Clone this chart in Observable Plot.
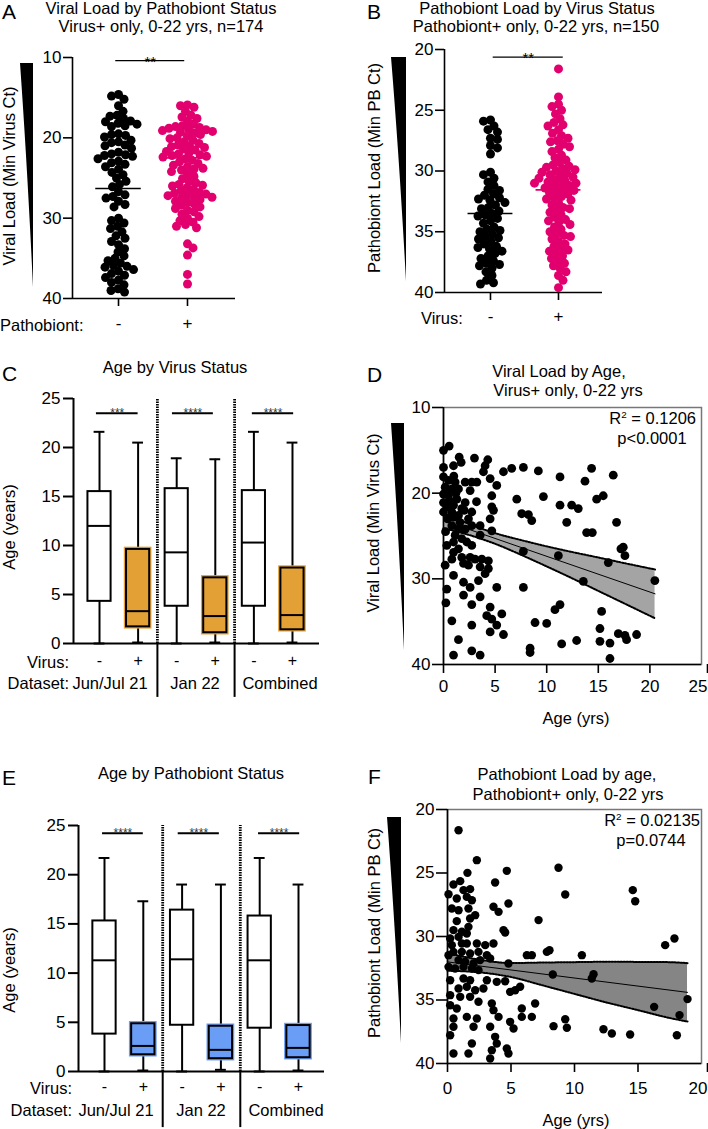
<!DOCTYPE html>
<html><head><meta charset="utf-8">
<script src="https://cdn.jsdelivr.net/npm/d3@7"></script>
<script src="https://cdn.jsdelivr.net/npm/@observablehq/plot@0.6"></script>
<style>
body{margin:0;background:#fff;}
#fig{position:relative;width:708px;height:1129px;font-family:"Liberation Sans",Arial,Helvetica,sans-serif;color:#000;overflow:hidden;background:#fff;}
.abs{position:absolute;white-space:nowrap;line-height:1;}
sup{font-size:60%;vertical-align:0.55em;line-height:0;}
</style></head>
<body><div id="fig"></div>
<script>
// ---------------- DATA ----------------
// Panel A: viral load (min virus Ct) by pathobiont status
const A_cats = ["-", "+"];
const A_neg = [14.6,14.8,15.2,16.0,16.7,17.2,17.3,17.6,17.9,18.0,18.2,18.3,18.5,18.6,19.5,19.6,19.7,19.9,20.3,20.5,20.6,20.9,21.0,21.3,21.8,22.0,22.1,22.2,22.3,22.6,22.9,23.1,23.3,23.6,23.9,24.3,24.6,25.0,25.4,25.8,26.1,26.7,27.1,27.3,27.5,27.9,28.3,28.6,30.0,30.3,30.6,31.0,31.3,31.7,32.2,32.5,32.9,33.3,33.8,34.2,34.7,35.0,35.3,35.6,35.9,36.1,36.4,36.6,36.9,37.1,37.4,37.7,38.0,38.3,38.8,39.0,39.2,36.0];
const A_pos = [15.9,16.0,16.2,16.7,17.2,17.4,17.6,17.9,18.3,18.5,18.6,18.7,18.8,19.0,19.1,19.3,19.4,19.6,19.8,20.0,20.1,20.3,20.5,20.7,20.9,21.0,21.2,21.4,21.5,21.7,21.9,22.0,22.2,22.3,22.4,22.6,22.8,23.0,23.2,23.4,23.6,23.8,24.0,24.2,24.5,24.8,25.1,25.4,25.6,25.8,26.0,26.2,26.4,26.6,26.8,26.9,27.0,27.1,27.3,27.4,27.5,27.7,27.9,28.0,28.2,28.4,28.6,28.8,29.0,29.2,29.5,29.8,30.0,30.3,30.5,30.8,31.0,31.2,33.2,33.7,34.6,37.0,38.2,19.2,22.1,25.9,27.2,18.9,21.1,23.9];
const A_means = [26.3, 22.5];
const A_sig = [{y: 10.4, x1: -0.04, x2: 0.96, label: "**"}];

// Panel B: pathobiont load (min PB Ct) by virus status
const B_cats = ["-", "+"];
const B_neg = [25.8,25.9,26.3,26.6,26.8,27.3,27.4,27.9,28.1,28.6,30.1,30.3,30.6,30.9,31.2,31.5,31.6,32.0,32.2,32.4,32.6,32.8,33.0,33.1,33.3,33.5,33.7,33.9,34.1,34.3,34.6,34.8,35.0,35.2,35.4,35.6,35.8,36.0,36.2,36.4,36.6,36.8,37.0,37.2,37.4,37.6,37.8,38.0,38.3,38.6,39.0,39.2,39.3,32.3,34.9,36.3,31.9,33.6,35.5,37.7];
const B_pos = [21.6,23.9,24.5,24.7,25.0,25.3,25.7,26.0,26.2,26.3,26.6,26.9,27.1,27.3,27.5,27.8,28.0,28.2,28.4,28.7,28.9,29.1,29.3,29.5,29.6,29.7,29.8,30.0,30.1,30.2,30.4,30.5,30.6,30.7,30.9,31.0,31.1,31.2,31.3,31.4,31.5,31.7,31.8,31.9,32.1,32.2,32.4,32.6,32.8,33.0,33.2,33.4,33.6,33.8,34.0,34.2,34.4,34.6,34.8,35.0,35.2,35.4,35.6,35.8,36.0,36.2,36.4,36.6,36.8,37.0,37.2,37.4,37.6,37.8,38.0,38.3,38.6,39.0,39.6,30.3,30.8,31.6,29.9,31.0,32.3,33.1,34.1,35.3,36.5,27.6];
const B_means = [33.5, 31.55];
const B_sig = [{y: 20.63, x1: 0.04, x2: 1.07, label: "**"}];

// Panel C: age by virus status (box plots)
const C_virus = ["-", "+", "-", "+", "-", "+"];
const C_min = [0, 0.1, 0, 0.1, 0, 0.1];
const C_q1  = [4.3, 1.7, 3.8, 1.1, 3.8, 1.4];
const C_med = [12.0, 3.3, 9.3, 2.8, 10.3, 2.9];
const C_q3  = [15.5, 9.6, 15.8, 6.7, 15.6, 7.7];
const C_max = [21.6, 20.5, 18.9, 18.8, 21.6, 20.5];
const C_sig = [{x1: -0.08, x2: 1.0, label: "***"}, {x1: 1.89, x2: 2.95, label: "****"}, {x1: 3.96, x2: 5.03, label: "****"}];

// Panel E: age by pathobiont status (box plots)
const E_min = [0, 0.1, 0, 0.17, 0, 0.1];
const E_q1  = [3.8, 1.7, 4.7, 1.3, 4.4, 1.4];
const E_med = [11.3, 2.6, 11.4, 2.2, 11.3, 2.4];
const E_q3  = [15.3, 4.85, 16.4, 4.6, 15.8, 4.67];
const E_max = [21.7, 17.3, 19.0, 19.0, 21.7, 19.0];
const E_sig = [{x1: -0.05, x2: 1.0, label: "****"}, {x1: 1.9, x2: 2.96, label: "****"}, {x1: 3.97, x2: 5.03, label: "****"}];
const datasets = ["Jun/Jul 21", "Jan 22", "Combined"];

// Panel D: viral load vs age  [age, Ct]
const D_pts = [[0,15.0],[0.55,14.5],[1.52,15.8],[1.71,16.4],[3.0,15.9],[4.29,16.1],[4.03,16.8],[3.87,17.5],[0,17.0],[0.97,16.8],[0,18.1],[0.48,18.5],[1.13,18.7],[2.1,18.7],[2.74,18.7],[3.23,18.7],[4.52,18.3],[5.16,19.1],[0.16,19.3],[0.81,19.5],[1.45,19.5],[2.58,19.7],[0,20.1],[0.48,20.3],[1.29,20.7],[2.1,21.1],[0,21.1],[0.32,21.6],[0.97,21.4],[1.77,21.8],[2.74,22.2],[0,22.2],[0.81,22.2],[1.45,22.6],[2.42,23.0],[4.68,20.3],[4.68,21.6],[4.84,22.0],[4.52,23.0],[3.55,23.8],[4.68,24.4],[3.55,24.9],[0.81,23.8],[1.45,24.2],[2.1,24.2],[2.74,23.8],[1.13,24.9],[1.77,25.3],[0.97,25.7],[2.26,25.7],[1.45,26.5],[2.74,26.1],[0.32,26.1],[0.97,26.9],[1.77,27.5],[2.58,27.5],[3.06,27.7],[3.71,27.7],[4.35,27.9],[1.94,28.2],[2.42,28.4],[3.55,28.6],[4.35,28.8],[0.16,28.4],[0.81,27.7],[0.97,29.6],[1.94,30.4],[2.58,31.0],[3.39,30.2],[4.03,29.4],[5.16,31.0],[0.32,31.2],[1.94,31.9],[3.55,32.1],[2.74,33.0],[0.23,32.8],[4.52,33.3],[4.19,34.3],[4.68,34.7],[5.65,34.1],[0.81,34.9],[2.74,35.4],[5.16,35.4],[4.52,36.2],[5.81,36.5],[1.45,37.1],[0.97,38.9],[2.74,38.4],[3.55,38.9],[0.3,19.8],[0.6,20.9],[1.0,22.8],[1.6,23.4],[0.4,23.0],[1.2,20.0],[0.2,24.5],[2.0,22.0],[3.2,21.0],[1.0,18.0],
[5.81,17.5],[6.61,17.1],[7.74,17.0],[9.19,17.4],[11.29,18.1],[13.71,18.6],[14.35,17.1],[16.45,17.9],[7.1,20.7],[9.68,20.4],[11.29,21.4],[12.42,21.4],[13.06,21.8],[7.58,22.4],[8.23,22.5],[8.55,23.2],[11.94,23.4],[14.84,20.7],[15.48,20.3],[16.77,23.4],[13.87,24.6],[14.42,24.6],[7.74,26.8],[11.13,27.3],[17.19,26.5],[17.42,26.3],[17.58,27.3],[15.97,28.1],[13.55,30.3],[20.48,30.2],[7.74,31.0],[10.8,33.6],[11.29,33.0],[15.32,33.8],[8.87,35.1],[10.0,35.2],[15.16,35.8],[16.94,36.4],[17.58,36.6],[17.74,37.1],[18.71,36.5],[11.45,37.6],[12.9,37.2],[15.16,37.3],[16.13,37.5],[8.39,38.1],[8.39,38.6],[16.13,39.3]];
const D_ciAge = [0, 2.5, 5, 7.5, 10, 12.5, 15, 17.5, 20.5];
const D_ciLo  = [22.3, 23.6, 24.67, 25.47, 26.21, 26.88, 27.51, 28.16, 28.91];
const D_ciHi  = [24.1, 24.89, 25.91, 27.19, 28.55, 29.96, 31.41, 32.86, 34.61];
const D_fitAge = [0, 20.5];
const D_fitCt = [23.2, 31.75];

// Panel F: pathobiont load vs age  [age, Ct]
const F_pts = [[0.87,21.63],[2.31,23.99],[4.67,24.83],[1.57,24.99],[3.75,25.75],[8.74,24.59],[9.27,26.69],[14.59,26.35],[14.78,27.22],[0.08,26.67],[0.47,25.91],[1.0,25.64],[1.26,26.35],[1.78,26.27],[0.73,27.01],[1.52,26.88],[1.92,27.14],[0.34,27.8],[0.87,27.93],[1.65,27.8],[2.18,28.32],[1.78,28.58],[3.62,27.66],[4.02,28.06],[4.8,27.4],[0.73,28.79],[0.47,29.5],[1.13,29.63],[1.65,29.24],[0.21,30.16],[0.87,30.03],[1.52,29.76],[4.41,29.5],[4.54,29.69],[7.17,28.71],[0.34,30.68],[1.13,30.55],[1.52,30.55],[2.31,30.55],[2.97,30.68],[3.62,30.55],[0.47,31.21],[1.13,31.21],[1.78,31.34],[2.44,31.21],[3.1,31.47],[0.08,31.47],[0.87,31.86],[1.39,31.99],[2.05,32.13],[2.57,31.86],[3.36,31.73],[4.8,32.13],[0.08,32.39],[0.6,32.52],[1.26,32.39],[1.92,32.52],[2.44,32.65],[0.21,33.44],[1.26,33.31],[1.78,33.44],[3.1,33.44],[3.88,33.57],[4.54,33.52],[0.87,34.09],[1.52,33.96],[2.18,34.23],[2.83,34.09],[0.21,34.62],[1.0,34.75],[1.78,34.75],[2.44,35.14],[3.49,35.28],[4.93,34.36],[5.33,34.23],[5.72,33.96],[6.25,31.47],[6.64,31.47],[7.82,31.21],[8.03,31.08],[10.58,31.47],[8.29,32.99],[11.36,33.31],[11.5,32.97],[6.9,35.28],[5.85,35.67],[0.21,35.41],[0.73,35.67],[1.52,36.33],[2.31,36.46],[3.62,35.8],[4.02,36.33],[5.85,36.33],[6.64,36.33],[0.47,36.46],[0.47,37.11],[0.21,37.77],[2.05,37.11],[3.36,37.11],[4.93,36.72],[5.2,37.24],[3.75,37.9],[3.88,38.43],[3.49,38.95],[4.67,38.82],[4.8,39.21],[3.36,39.61],[0.47,39.21],[1.65,39.21],[1.92,38.43],[8.35,37.06],[9.27,36.51],[9.4,37.19],[12.28,37.3],[12.94,37.64],[14.38,37.72],[17.14,30.68],[17.87,30.16],[16.27,35.54],[18.27,36.19],[18.9,34.93],[18.06,37.77]];
const F_ciAge = [0, 2.5, 5, 7.5, 10, 12.5, 15, 17.5, 18.9];
const F_ciLo  = [31.3, 31.82, 32.09, 32.05, 32.02, 31.99, 32.0, 32.02, 32.1];
const F_ciHi  = [32.7, 32.82, 33.19, 33.85, 34.52, 35.19, 35.8, 36.42, 36.7];
const F_fitAge = [0, 18.9];
const F_fitCt = [32.0, 34.4];

// ---------------- HELPERS ----------------
const FONT = '"Liberation Sans", Arial, Helvetica, sans-serif';
const PINK = "#e2006e", ORANGE = "#e3a035", BLUE = "#6a9ef6";
const TICKFS = 17;
const fig = document.getElementById("fig");
const style = {fontFamily: FONT, fontSize: "17px", color: "#000", background: "transparent", overflow: "visible"};

function place(el, left, top) {
  el.style.position = "absolute"; el.style.left = left + "px"; el.style.top = top + "px";
  fig.appendChild(el);
}
function txt(html, x, y, o = {}) {
  const {anchor = "middle", size = 16.5, rotate = false, color = "#000"} = o;
  const d = document.createElement("div");
  d.className = "abs"; d.innerHTML = html;
  d.style.left = x + "px"; d.style.top = y + "px"; d.style.fontSize = size + "px"; d.style.color = color;
  const tx = anchor === "middle" ? "-50%" : anchor === "end" ? "-100%" : "0";
  d.style.transform = `translate(${tx},-50%)` + (rotate ? " rotate(-90deg)" : "");
  fig.appendChild(d);
}
function wedge(x1, x2, yTop, yTip) {
  const ns = "http://www.w3.org/2000/svg";
  const s = document.createElementNS(ns, "svg");
  s.setAttribute("width", 708); s.setAttribute("height", 1129);
  s.style.position = "absolute"; s.style.left = "0"; s.style.top = "0"; s.style.pointerEvents = "none";
  const p = document.createElementNS(ns, "path");
  p.setAttribute("d", `M${x1},${yTop} L${x2},${yTop} L${x2},${yTip} Q${x1 + (x2 - x1) * 0.55},${yTop + (yTip - yTop) * 0.45} ${x1},${yTop} Z`);
  p.setAttribute("fill", "#000");
  s.appendChild(p); fig.appendChild(s);
}
function swarm(values, cat, yPx, pxPerUnit, minDist) {
  const pts = values.map(v => ({v, py: yPx(v)})).sort((a, b) => a.py - b.py);
  const placed = [];
  let side = 1;
  for (const p of pts) {
    let off = null;
    for (let k = 0; off === null && k < 400; k++) {
      const cands = k === 0 ? [0] : [side * k * 0.5, -side * k * 0.5];
      for (const c of cands) {
        let ok = true;
        for (const q of placed) {
          const dy = q.py - p.py;
          if (Math.abs(dy) < minDist) {
            const dx = q.off - c;
            if (dx * dx + dy * dy < minDist * minDist) { ok = false; break; }
          }
        }
        if (ok) { off = c; break; }
      }
    }
    side = -side;
    placed.push({py: p.py, off});
  }
  return placed.map((q, i) => ({value: pts[i].v, x: cat + q.off / pxPerUnit}));
}

// ---------------- SWARM PANELS (A, B) ----------------
function swarmPanel(cfg) {
  const {left, top, width, height, mL, mR, mT, mB, xDom, yDom, yTicks, neg, pos, means, sig, tickPad} = cfg;
  const yPx = d3.scaleLinear().domain([yDom[1], yDom[0]]).range([mT, height - mB]);
  const ppu = (width - mL - mR) / (xDom[1] - xDom[0]);
  const sNeg = swarm(neg, 0, yPx, ppu, 7.0);
  const sPos = swarm(pos, 1, yPx, ppu, 6.6);
  const meanData = means.map((m, i) => ({i, m}));
  const p = Plot.plot({
    width, height, marginLeft: mL, marginRight: mR, marginTop: mT, marginBottom: mB,
    x: {domain: xDom, axis: null}, y: {domain: yDom, axis: null}, style,
    marks: [
      Plot.ruleY([yDom[0]], {strokeWidth: 1.6}),
      Plot.ruleX([xDom[0]], {strokeWidth: 1.6}),
      Plot.axisY({ticks: yTicks, tickSize: 9, tickPadding: 2, fontSize: TICKFS, strokeWidth: 1.6, label: null}),
      Plot.axisX({ticks: [0, 1], tickFormat: d => d ? "+" : "-", tickSize: 8, tickPadding: tickPad, fontSize: TICKFS, strokeWidth: 1.6, label: null}),
      Plot.dot(sNeg, {x: "x", y: "value", r: 4.5, fill: "#000"}),
      Plot.dot(sPos, {x: "x", y: "value", r: 4.5, fill: PINK}),
      Plot.ruleY(meanData, {y: "m", x1: d => d.i - 0.33, x2: d => d.i + 0.33, stroke: d => d.i ? PINK : "#000", strokeWidth: 1.6}),
      Plot.ruleY(sig, {y: "y", x1: "x1", x2: "x2", strokeWidth: 1.3}),
      Plot.text(sig, {x: d => (d.x1 + d.x2) / 2, y: "y", text: "label", fontSize: 15, lineAnchor: "bottom", dy: 6})
    ]
  });
  place(p, left, top);
}
swarmPanel({left: 0, top: 0, width: 250, height: 330, mL: 72, mR: 15, mT: 57, mB: 32,
  xDom: [-0.667, 1.696], yDom: [40, 10], yTicks: [10, 20, 30, 40], neg: A_neg, pos: A_pos, means: A_means, sig: A_sig, tickPad: 10});
swarmPanel({left: 354, top: 0, width: 260, height: 330, mL: 90, mR: 12, mT: 49, mB: 38,
  xDom: [-0.676, 1.647], yDom: [40, 20], yTicks: [20, 25, 30, 35, 40], neg: B_neg, pos: B_pos, means: B_means, sig: B_sig, tickPad: 9});

// ---------------- BOX PANELS (C, E) ----------------
function boxPanel(cfg) {
  const {left, top, width, height, mL, mR, mT, mB, xDom, mins, q1s, meds, q3s, maxs, sig, sigY, fillColor, belowTo, tickPad} = cfg;
  const data = mins.map((_, i) => ({i, min: mins[i], q1: q1s[i], med: meds[i], q3: q3s[i], max: maxs[i], pos: i % 2 === 1}));
  const sigData = sig.map(d => ({...d, y: sigY}));
  const p = Plot.plot({
    width, height, marginLeft: mL, marginRight: mR, marginTop: mT, marginBottom: mB,
    x: {domain: xDom, axis: null}, y: {domain: [0, 25], axis: null}, style,
    marks: [
      Plot.ruleX([1.5, 3.5], {y1: 0, y2: 25, strokeWidth: 2.8, strokeDasharray: "1.4,1.1"}),
      Plot.ruleX([1.5, 3.5], {y1: 0, y2: belowTo, strokeWidth: 2}),
      Plot.ruleX(data, {x: "i", y1: "min", y2: "q1", strokeWidth: 2}),
      Plot.ruleX(data, {x: "i", y1: "q3", y2: "max", strokeWidth: 2}),
      Plot.ruleY(data, {y: "max", x1: d => d.i - 0.14, x2: d => d.i + 0.14, strokeWidth: 2}),
      Plot.ruleY(data, {y: "min", x1: d => d.i - 0.14, x2: d => d.i + 0.14, strokeWidth: 2}),
      Plot.rect(data.filter(d => d.pos), {x1: d => d.i - 0.3, x2: d => d.i + 0.3, y1: "q1", y2: "q3", fill: fillColor, stroke: fillColor, strokeWidth: 4.5}),
      Plot.rect(data, {x1: d => d.i - 0.3, x2: d => d.i + 0.3, y1: "q1", y2: "q3", fill: d => d.pos ? fillColor : "#fff", stroke: "#000", strokeWidth: 2}),
      Plot.ruleY(data, {y: "med", x1: d => d.i - 0.3, x2: d => d.i + 0.3, strokeWidth: 2}),
      Plot.ruleY([0], {strokeWidth: 2}),
      Plot.ruleX([xDom[0]], {strokeWidth: 2}),
      Plot.axisY({ticks: [0, 5, 10, 15, 20, 25], tickSize: 10, tickPadding: 3, fontSize: TICKFS, strokeWidth: 2, label: null}),
      Plot.axisX({ticks: [0, 1, 2, 3, 4, 5], tickFormat: d => d % 2 ? "+" : "-", tickSize: 0, tickPadding: tickPad, fontSize: 16, label: null}),
      Plot.ruleY(sigData, {y: "y", x1: "x1", x2: "x2", strokeWidth: 2}),
      Plot.text(sigData, {x: d => (d.x1 + d.x2) / 2, y: "y", text: "label", fontSize: 12, fill: "#333", lineAnchor: "bottom", dy: 4})
    ]
  });
  place(p, left, top);
}
boxPanel({left: 0, top: 380, width: 330, height: 330, mL: 73, mR: 11, mT: 18, mB: 67, xDom: [-0.674, 5.70],
  mins: C_min, q1s: C_q1, meds: C_med, q3s: C_q3, maxs: C_max, sig: C_sig, sigY: 23.5, fillColor: ORANGE, belowTo: -5.5, tickPad: 11});
boxPanel({left: 0, top: 800, width: 336, height: 329, mL: 78, mR: 12, mT: 25, mB: 58, xDom: [-0.67, 5.67],
  mins: E_min, q1s: E_q1, meds: E_med, q3s: E_q3, maxs: E_max, sig: E_sig, sigY: 24.2, fillColor: BLUE, belowTo: -5.7, tickPad: 9});

// ---------------- SCATTER PANELS (D, F) ----------------
function scatterPanel(cfg) {
  const {left, top, width, height, mL, mR, mT, mB, xDom, yDom, xTicks, yTicks, pts, ciAge, ciLo, ciHi, fitAge, fitCt, band, r, xPad} = cfg;
  const pd = pts.map(([a, c]) => ({a, c}));
  const ci = ciAge.map((a, i) => ({a, lo: ciLo[i], hi: ciHi[i]}));
  const fit = fitAge.map((a, i) => ({a, c: fitCt[i]}));
  const lastTick = xTicks[xTicks.length - 1];
  const p = Plot.plot({
    width, height, marginLeft: mL, marginRight: mR, marginTop: mT, marginBottom: mB,
    x: {domain: xDom, axis: null}, y: {domain: yDom, axis: null}, style,
    marks: [
      Plot.frame({stroke: "#777", strokeWidth: 1.5}),
      Plot.areaY(ci, {x: "a", y1: "lo", y2: "hi", fill: band, curve: "monotone-x"}),
      Plot.line(ci, {x: "a", y: "lo", strokeWidth: 2, strokeDasharray: "1.5,1.5", curve: "monotone-x"}),
      Plot.line(ci, {x: "a", y: "hi", strokeWidth: 2, strokeDasharray: "1.5,1.5", curve: "monotone-x"}),
      Plot.line(fit, {x: "a", y: "c", strokeWidth: 1}),
      Plot.dot(pd, {x: "a", y: "c", r, fill: "#000"}),
      Plot.ruleY([yDom[0]], {strokeWidth: 1.6}),
      Plot.ruleX([xDom[0]], {strokeWidth: 1.6}),
      Plot.axisY({ticks: yTicks, tickSize: 11, tickPadding: 2, fontSize: TICKFS, strokeWidth: 1.6, label: null}),
      Plot.axisX({ticks: xTicks.slice(0, -1), tickSize: 9, tickPadding: xPad, fontSize: TICKFS, strokeWidth: 1.6, label: null}),
      Plot.axisX({ticks: [lastTick], tickSize: 9, tickPadding: xPad, fontSize: TICKFS, strokeWidth: 1.6, label: null, textAnchor: "end", dx: 6})
    ]
  });
  place(p, left, top);
}
scatterPanel({left: 354, top: 380, width: 354, height: 360, mL: 89, mR: 7, mT: 27, mB: 76, xDom: [0, 25], yDom: [40, 10],
  xTicks: [0, 5, 10, 15, 20, 25], yTicks: [10, 20, 30, 40], pts: D_pts, ciAge: D_ciAge, ciLo: D_ciLo, ciHi: D_ciHi,
  fitAge: D_fitAge, fitCt: D_fitCt, band: "#a4a4a4", r: 4.4, xPad: 6});
scatterPanel({left: 354, top: 790, width: 354, height: 339, mL: 93, mR: 7, mT: 19, mB: 66, xDom: [0, 20], yDom: [40, 20],
  xTicks: [0, 5, 10, 15, 20], yTicks: [20, 25, 30, 35, 40], pts: F_pts, ciAge: F_ciAge, ciLo: F_ciLo, ciHi: F_ciHi,
  fitAge: F_fitAge, fitCt: F_fitCt, band: "#858585", r: 4.2, xPad: 9});

// ---------------- WEDGES ----------------
wedge(20, 33, 63, 287);
wedge(391, 406, 57, 281);
wedge(391, 404, 423, 650);
wedge(387, 401, 817, 1043);

// ---------------- TEXT ----------------
const L = {size: 21, anchor: "start"};
txt("A", 2, 11, L); txt("B", 367, 11, L); txt("C", 2, 373, L);
txt("D", 367, 374, L); txt("E", 2, 777, L); txt("F", 368, 776, L);

txt("Viral Load by Pathobiont Status", 161, 8);
txt("Virus+ only, 0-22 yrs, n=174", 161, 26);
txt("Pathobiont Load by Virus Status", 537, 8);
txt("Pathobiont+ only, 0-22 yrs, n=150", 536, 26);
txt("Age by Virus Status", 175, 367);
txt("Viral Load by Age,", 559, 371);
txt("Virus+ only, 0-22 yrs", 568, 390);
txt("Age by Pathobiont Status", 191, 773);
txt("Pathobiont Load by age,", 567, 774);
txt("Pathobiont+ only, 0-22 yrs", 568, 794);

txt("Viral Load (Min Virus Ct)", 9, 176, {rotate: true});
txt("Pathobiont Load (Min PB Ct)", 374, 168, {rotate: true});
txt("Age (years)", 9, 527, {rotate: true});
txt("Viral Load (Min Virus Ct)", 373, 523, {rotate: true});
txt("Age (years)", 9, 970, {rotate: true});
txt("Pathobiont Load (Min PB Ct)", 374, 933, {rotate: true});

txt("Pathobiont:", 0, 325, {anchor: "start"});
txt("Virus:", 421, 318, {anchor: "start"});

txt("Virus:", 69, 662, {anchor: "end"});
txt("Dataset:", 69, 683, {anchor: "end"});
txt(datasets[0], 110, 683); txt(datasets[1], 195, 683); txt(datasets[2], 280, 683);
txt("Virus:", 72, 1088, {anchor: "end"});
txt("Dataset:", 72, 1110, {anchor: "end"});
txt(datasets[0], 116, 1110); txt(datasets[1], 201, 1110); txt(datasets[2], 286, 1110);

txt("Age (yrs)", 576, 718);
txt("Age (yrs)", 576, 1120);

txt("R<sup>2</sup> = 0.1206", 696, 418, {anchor: "end"});
txt("p&lt;0.0001", 652, 438);
txt("R<sup>2</sup> = 0.02135", 700, 820, {anchor: "end"});
txt("p=0.0744", 651, 840);
</script>
</body></html>
